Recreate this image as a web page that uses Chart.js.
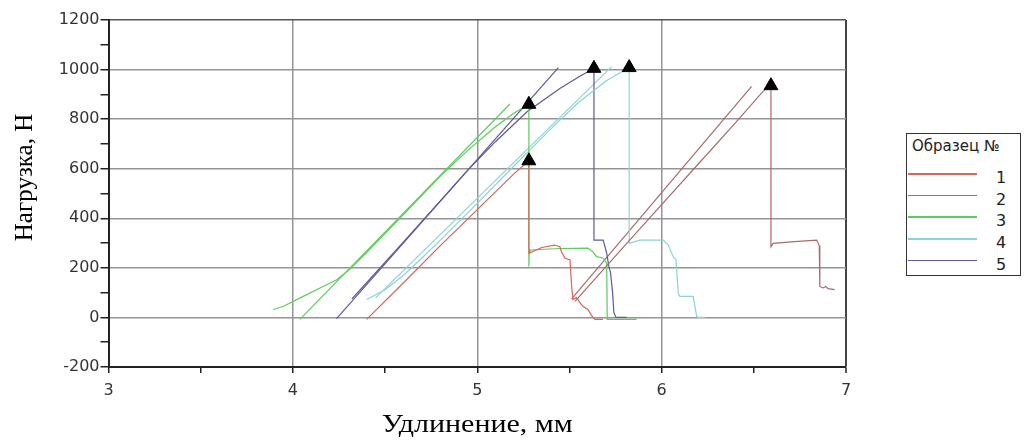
<!DOCTYPE html>
<html lang="ru">
<head>
<meta charset="utf-8">
<title>Нагрузка — удлинение</title>
<script src="https://cdn.jsdelivr.net/npm/chart.js@4.4.1/dist/chart.umd.min.js"></script>
<style>
  html, body { margin: 0; padding: 0; background: #fff; }
  #wrap { position: relative; width: 1024px; height: 443px; }
  #legend {
    position: absolute; left: 906px; top: 133px; width: 115px; height: 143px;
    box-sizing: border-box; border: 1px solid #333; background: #fff;
    font-family: "DejaVu Sans", sans-serif; color: #222;
  }
  #legend .title { position: absolute; left: 5px; top: 3px; font-size: 15px; white-space: nowrap; }
  #legend .line { position: absolute; left: 1px; width: 69px; height: 1.5px; }
  #legend .num { position: absolute; left: 86px; width: 16px; text-align: center; font-size: 16px; line-height: 16px; }
</style>
</head>
<body>
<div id="wrap">
  <canvas id="chart" width="1024" height="443"></canvas>
  <div id="legend"></div>
</div>
<script>
// sample numbers and line colours
const labels = ["1", "2", "3", "4", "5"];
const colors = ["#d4665a", "#a86a6a", "#5ccc5c", "#8cd4d4", "#5a5a9c"];

// load curves, [elongation mm, load N]
const sample1 = [[4.40, -8], [4.60, 140], [4.80, 290], [5.00, 435], [5.20, 580], [5.28, 632],
  [5.28, 259], [5.35, 282], [5.42, 292], [5.448, 285], [5.457, 265], [5.475, 240], [5.503, 232],
  [5.512, 125], [5.519, 72], [5.539, 80], [5.555, 62], [5.573, 45], [5.60, 32], [5.627, 0],
  [5.638, -8], [5.682, -8]];
const sample2 = [[5.53, 65], [5.80, 290], [6.00, 455], [6.20, 620], [6.40, 785], [6.55, 912],
  [6.593, 935], [6.593, 285], [6.605, 299], [6.72, 306], [6.841, 312], [6.855, 290],
  [6.858, 125], [6.876, 119], [6.89, 125], [6.903, 116], [6.939, 112]];
const sample3 = [[3.894, 32], [3.95, 45], [4.056, 85], [4.15, 120], [4.238, 152], [4.31, 195],
  [4.40, 262], [4.60, 415], [4.80, 570], [4.95, 675], [5.10, 770], [5.20, 825], [5.28, 860],
  [5.28, 205], [5.282, 262], [5.286, 272], [5.45, 278], [5.60, 280], [5.627, 265], [5.647, 245],
  [5.682, 240], [5.702, 220], [5.705, -8], [5.864, -8]];
const sample4 = [[4.40, 72], [4.50, 112], [4.60, 170], [4.70, 240], [4.80, 312], [5.00, 460],
  [5.20, 612], [5.40, 762], [5.55, 868], [5.70, 955], [5.824, 1008], [5.824, 299], [5.882, 312],
  [6.009, 312], [6.036, 292], [6.063, 245], [6.078, 232], [6.09, 99], [6.099, 85], [6.171, 85],
  [6.19, 5], [6.198, 0], [6.235, 0]];
const sample5 = [[4.32, 75], [4.40, 140], [4.60, 305], [4.80, 470], [4.95, 595], [5.10, 710],
  [5.27, 830], [5.45, 925], [5.55, 970], [5.633, 1005], [5.633, 312], [5.683, 312], [5.702, 259],
  [5.714, 205], [5.723, 180], [5.734, 100], [5.741, 20], [5.752, 0], [5.81, 0]];

// straight elastic-range lines (null = no line for that sample)
const fit1 = null;
const fit2 = [[5.512, 75], [6.488, 932]];
const fit3 = [[4.038, -8], [5.177, 861]];
const fit4 = [[4.45, 80], [5.729, 1012]];
const fit5 = [[4.237, -5], [5.44, 1008]];

const xTicks = [3, 4, 5, 6, 7];
const yTicks = [-200, 0, 200, 400, 600, 800, 1000, 1200];
const xTitle = "Удлинение, мм";
const yTitle = "Нагрузка, Н";

const curves = [sample1, sample2, sample3, sample4, sample5];
const fits = [fit1, fit2, fit3, fit4, fit5];

const toPts = arr => arr.map(([x, y]) => ({ x, y }));

// break point = max load of each curve
const peaks = curves.map(c => c.reduce((m, p) => (p[1] > m[1] ? p : m)));

const datasets = [{
  label: "peaks",
  data: toPts(peaks),
  showLine: false,
  pointStyle: "triangle",
  pointRadius: 8,
  pointBackgroundColor: "#000",
  pointBorderColor: "#000",
  order: 0
}];
curves.forEach((c, i) => {
  datasets.push({
    label: labels[i], data: toPts(c), showLine: true, borderColor: colors[i],
    borderWidth: 1.2, pointRadius: 0, tension: 0, order: 1
  });
  if (fits[i]) {
    datasets.push({
      label: labels[i] + " fit", data: toPts(fits[i]), showLine: true, borderColor: colors[i],
      borderWidth: 1.2, pointRadius: 0, order: 2
    });
  }
});

// axis titles sit at fixed spots round the plot
const axisTitles = {
  id: "axisTitles",
  afterDraw(chart) {
    const { ctx, chartArea: a } = chart;
    ctx.save();
    ctx.fillStyle = "#000";
    ctx.font = '25px "Liberation Serif", serif';
    ctx.textAlign = "center";
    ctx.textBaseline = "middle";
    ctx.save();
    ctx.translate((a.left + a.right) / 2, 425);
    ctx.scale(1.2, 1);
    ctx.fillText(xTitle, 0, 0);
    ctx.restore();
    ctx.translate(25, (a.top + a.bottom) / 2 - 16);
    ctx.rotate(-Math.PI / 2);
    ctx.fillText(yTitle, 0, 0);
    ctx.restore();
  }
};

const tickFont = { family: "DejaVu Sans", size: 16 };

new Chart(document.getElementById("chart"), {
  type: "scatter",
  data: { datasets },
  plugins: [axisTitles],
  options: {
    responsive: false,
    animation: false,
    layout: { padding: { left: 0, top: 20, right: 178, bottom: 0 } },
    plugins: { legend: { display: false }, tooltip: { enabled: false } },
    scales: {
      x: {
        type: "linear",
        min: xTicks[0], max: xTicks[xTicks.length - 1],
        afterFit: s => { s.height = 76; },
        ticks: {
          stepSize: 0.5, autoSkip: false, maxRotation: 0, padding: 8,
          color: "#333", font: tickFont,
          callback: v => (xTicks.includes(v) ? v : "")
        },
        grid: {
          color: c => {
            const v = c.tick.value;
            if (v === xTicks[xTicks.length - 1]) return "#444";
            return Number.isInteger(v) ? "#959595" : "rgba(0,0,0,0)";
          },
          lineWidth: c => (c.tick.value === xTicks[xTicks.length - 1] ? 2 : 1.5),
          tickColor: "#222", tickLength: 6, tickWidth: 1.5
        },
        border: { color: "#222", width: 2 }
      },
      y: {
        type: "linear",
        min: yTicks[0], max: yTicks[yTicks.length - 1],
        afterFit: s => { s.width = 108.5; },
        ticks: {
          stepSize: 100, autoSkip: false, padding: 1,
          color: "#333", font: tickFont,
          callback: v => (yTicks.includes(v) ? v : "")
        },
        grid: {
          color: c => {
            const v = c.tick.value;
            if (v === yTicks[yTicks.length - 1]) return "#555";
            return v % 200 === 0 ? "#959595" : "rgba(0,0,0,0)";
          },
          lineWidth: 1.5,
          tickColor: "#222", tickLength: 8, tickWidth: 1.5
        },
        border: { color: "#222", width: 2 }
      }
    }
  }
});

// legend box built from the same labels and colours
const legend = document.getElementById("legend");
legend.innerHTML = '<div class="title">Образец №</div>';
labels.forEach((lab, i) => {
  const top = 40 + i * 21.7;
  legend.insertAdjacentHTML("beforeend",
    `<div class="line" style="top:${top - 1}px;background:${colors[i]}"></div>` +
    `<div class="num" style="top:${top - 4}px">${lab}</div>`);
});
</script>
</body>
</html>
